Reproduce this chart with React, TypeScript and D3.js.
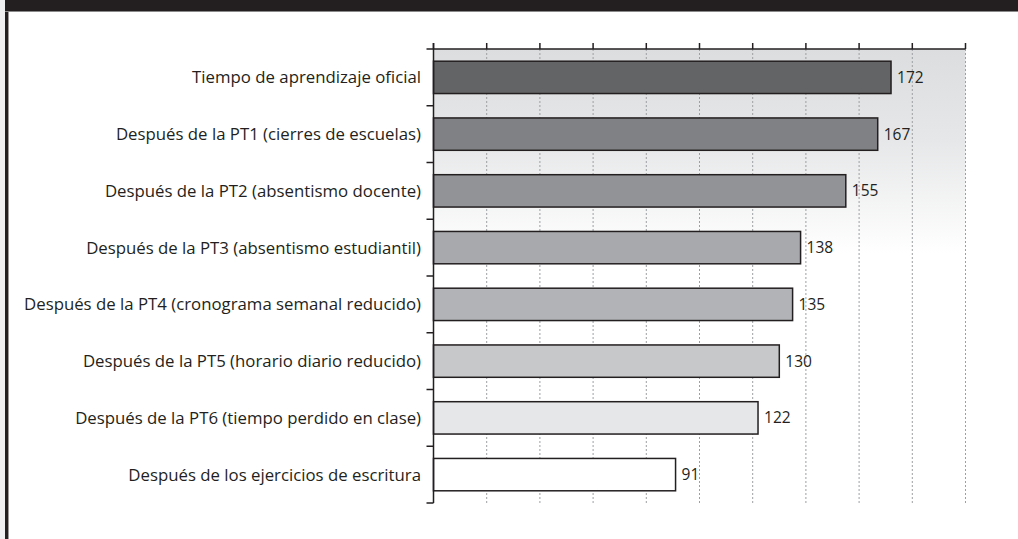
import React from "react";
import * as d3 from "d3";

const categories = [
  "Tiempo de aprendizaje oficial",
  "Después de la PT1 (cierres de escuelas)",
  "Después de la PT2 (absentismo docente)",
  "Después de la PT3 (absentismo estudiantil)",
  "Después de la PT4 (cronograma semanal reducido)",
  "Después de la PT5 (horario diario reducido)",
  "Después de la PT6 (tiempo perdido en clase)",
  "Después de los ejercicios de escritura",
];
const values = [172, 167, 155, 138, 135, 130, 122, 91];
const barColors = ["#636466", "#808184", "#929396", "#a7a9ac", "#b1b3b6", "#c7c8ca", "#e6e7e8", "#ffffff"];
const xTicks = [0, 20, 40, 60, 80, 100, 120, 140, 160, 180, 200];

const W = 1018;
const H = 539;
const left = 433.5;
const right = 965.5;
const top = 49;
const bottom = 503;
const FONT = "'Open Sans', sans-serif";
const INK = "#231f20";

export default function App() {
  const x = d3.scaleLinear().domain([0, 200]).range([left, right]);
  const y = d3.scaleBand<string>().domain(categories).range([top, bottom]).paddingInner(0.43).paddingOuter(0.215);
  const band = d3.scaleBand<string>().domain(categories).range([top, bottom]);
  const boundaries = categories.map((c) => band(c) as number).concat([bottom]);

  return (
    <svg width={W} height={H} style={{ position: "absolute", left: 0, top: 0 }} xmlns="http://www.w3.org/2000/svg">
      <defs>
        <linearGradient id="bg" x1="0" y1="0" x2="0" y2="1">
          <stop offset="0" stopColor="#dcdddf" />
          <stop offset="0.2" stopColor="#e6e7e8" />
          <stop offset="0.45" stopColor="#ffffff" />
          <stop offset="1" stopColor="#ffffff" />
        </linearGradient>
      </defs>
      <rect x={0} y={0} width={W} height={H} fill="#ffffff" />
      {/* frame */}
      <rect x={0} y={0} width={5} height={H} fill="#eeeff0" />
      <rect x={5} y={0} width={W - 5} height={11} fill={INK} />
      <rect x={5} y={0} width={3} height={H} fill={INK} />
      <rect x={8} y={11} width={1} height={H - 11} fill="#9a9a9a" />
      <line x1={5} x2={W} y1={11.5} y2={11.5} stroke="#8a8a8a" strokeWidth={1} />

      {/* plot background */}
      <rect x={left} y={top} width={right - left} height={bottom - top} fill="url(#bg)" />

      {/* gridlines */}
      {xTicks.slice(1).map((t) => (
        <line key={"g" + t} x1={x(t)} x2={x(t)} y1={top} y2={bottom} stroke="#9d9fa2" strokeWidth={1} strokeDasharray="2,2" />
      ))}

      {/* bars */}
      {categories.map((c, i) => (
        <g key={c}>
          <rect
            x={x(0)}
            y={y(c)}
            width={x(values[i]) - x(0)}
            height={y.bandwidth()}
            fill={barColors[i]}
            stroke={INK}
            strokeWidth={1.5}
          />
          <text
            x={x(values[i]) + 6}
            y={(y(c) as number) + y.bandwidth() / 2}
            dy="0.36em"
            fontFamily={FONT}
            fontSize={15.5}
            fill={INK}
          >
            {values[i]}
          </text>
          <text
            x={421}
            y={(y(c) as number) + y.bandwidth() / 2}
            dy="0.36em"
            textAnchor="end"
            fontFamily={FONT}
            fontSize={16.8}
            fill={INK}
          >
            {c}
          </text>
        </g>
      ))}

      {/* top axis */}
      <line x1={left - 7} x2={right} y1={top} y2={top} stroke={INK} strokeWidth={1.5} />
      {xTicks.map((t) => (
        <line key={"t" + t} x1={x(t)} x2={x(t)} y1={top - 6} y2={top} stroke={INK} strokeWidth={1.5} />
      ))}
      {/* left axis */}
      <line x1={left} x2={left} y1={top - 6} y2={bottom} stroke={INK} strokeWidth={1.5} />
      {boundaries.slice(1).map((b, i) => (
        <line key={"l" + i} x1={left - 7} x2={left} y1={b} y2={b} stroke={INK} strokeWidth={1.5} />
      ))}
    </svg>
  );
}
